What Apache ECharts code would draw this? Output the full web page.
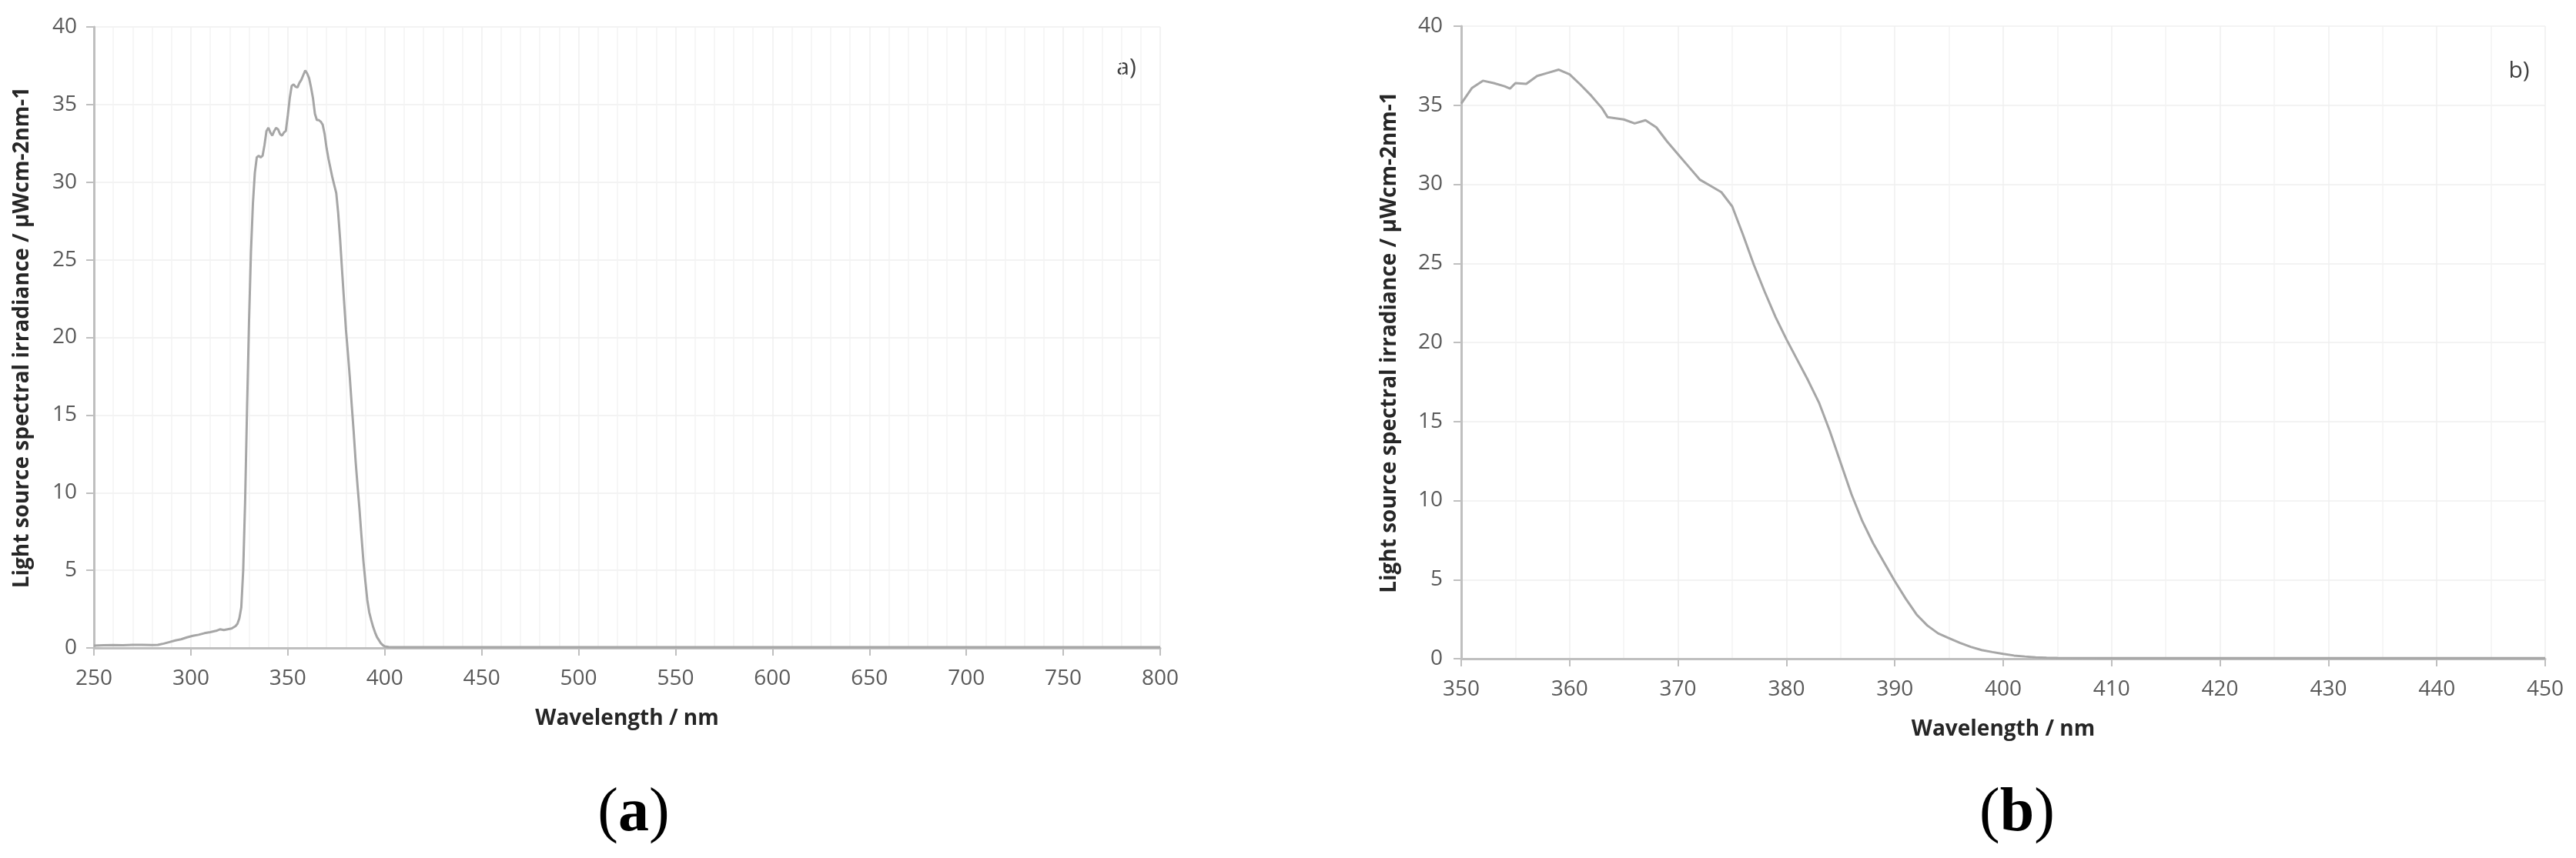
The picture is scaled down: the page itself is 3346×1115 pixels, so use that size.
<!DOCTYPE html>
<html>
<head>
<meta charset="utf-8">
<script src="https://cdn.jsdelivr.net/npm/echarts@6/dist/echarts.min.js"></script>
<style>
html,body{margin:0;padding:0;background:#fff;}
#chart{width:3346px;height:1115px;}
</style>
</head>
<body>
<div id="chart"></div>
<script>
// ---- Panel (a): full spectrum 250–800 nm ----
const wavelengthA = [250,255,260,265,270,275,280,283,286,289,292,295,298,301,304,307,310,313,315,317,319,321,323,324,325,326,327,328,329,330,331,332,333,334,335,336,337,338,339,340,341,342,343,344,345,346,347,348,349,350,351,352,353,354,355,356,357,358,359,360,361,362,363,364,365,366,367,368,369,370,371,372,373,374,375,376,377,378,379,380,381,382,383,384,385,386,387,388,389,390,391,392,393,394,395,396,397,398,399,400,402,405,420,450,500,550,600,650,700,750,800];
const irradianceA = [0.15,0.17,0.18,0.17,0.2,0.2,0.18,0.2,0.28,0.38,0.48,0.56,0.68,0.78,0.85,0.95,1.02,1.1,1.2,1.15,1.2,1.25,1.4,1.55,1.9,2.6,5.0,9.5,15.5,21.0,25.5,28.6,30.6,31.6,31.7,31.6,31.7,32.4,33.3,33.5,33.2,33.0,33.3,33.5,33.4,33.1,33.0,33.2,33.3,34.3,35.4,36.2,36.3,36.15,36.1,36.4,36.6,36.9,37.2,37.0,36.7,36.1,35.4,34.4,34.0,34.0,33.9,33.7,33.1,32.2,31.5,30.9,30.3,29.8,29.3,28.0,26.3,24.3,22.4,20.5,19.0,17.4,15.6,13.9,12.0,10.4,8.9,7.2,5.6,4.3,3.1,2.3,1.8,1.36,1.0,0.7,0.5,0.3,0.18,0.1,0.06,0.05,0.05,0.05,0.05,0.05,0.05,0.05,0.05,0.05,0.05];

// ---- Panel (b): zoom 350–450 nm ----
const wavelengthB = [350,351,352,353,354,354.5,355,356,357,358,359,360,361,362,363,363.5,364,365,366,367,368,369,370,371,372,373,374,375,376,377,378,379,380,381,382,383,384,385,386,387,388,389,390,391,392,393,394,395,396,397,398,399,400,401,402,403,404,405,410,420,430,440,450];
const irradianceB = [35.1,36.1,36.55,36.4,36.2,36.05,36.4,36.35,36.85,37.05,37.25,36.95,36.3,35.6,34.8,34.25,34.2,34.1,33.85,34.05,33.6,32.7,31.9,31.1,30.3,29.9,29.5,28.6,26.8,24.9,23.2,21.6,20.2,18.9,17.6,16.2,14.4,12.4,10.4,8.7,7.3,6.1,4.9,3.8,2.8,2.1,1.6,1.3,1.0,0.75,0.55,0.42,0.3,0.2,0.14,0.09,0.06,0.05,0.04,0.04,0.04,0.04,0.04];

const yTicksMax = 40, yInterval = 5;
const yTitle = 'Light source spectral irradiance / µWcm-2nm-1';
const xTitle = 'Wavelength / nm';

const zip = (xs, ys) => xs.map((x, i) => [x, ys[i]]);

const AXIS = '#bfbfbf', GRID = '#efefef', MINOR = '#f4f4f4', LABEL = '#595959', TITLE = '#262626';
const FONT = "'Open Sans', 'Liberation Sans', sans-serif";

function xAxisCfg(idx, min, max, interval, minorSplit) {
  return {
    type: 'value', gridIndex: idx, min: min, max: max, interval: interval,
    name: xTitle, nameLocation: 'middle', nameGap: 78,
    nameTextStyle: {fontFamily: FONT, fontSize: 28, fontWeight: 'bold', color: TITLE},
    axisLine: {onZero: false, lineStyle: {color: AXIS, width: 3}},
    axisTick: {show: true, length: 10, lineStyle: {color: AXIS, width: 2}},
    minorTick: {show: false, splitNumber: minorSplit},
    minorSplitLine: {show: true, lineStyle: {color: MINOR, width: 1.5}},
    splitLine: {show: true, lineStyle: {color: GRID, width: 1.5}},
    axisLabel: {fontFamily: FONT, fontSize: 28, color: LABEL, margin: 26}
  };
}
function yAxisCfg(idx, margin) {
  return {
    type: 'value', gridIndex: idx, min: 0, max: yTicksMax, interval: yInterval,
    name: yTitle, nameLocation: 'middle', nameGap: 79,
    nameTextStyle: {fontFamily: FONT, fontSize: 28, fontWeight: 'bold', color: TITLE},
    axisLine: {show: true, lineStyle: {color: AXIS, width: 3}},
    axisTick: {show: true, length: 10, lineStyle: {color: AXIS, width: 2}},
    splitLine: {show: true, lineStyle: {color: GRID, width: 1.5}},
    axisLabel: {fontFamily: FONT, fontSize: 28, color: LABEL, margin: margin}
  };
}

const chart = echarts.init(document.getElementById('chart'), null, {renderer: 'canvas'});
chart.setOption({
  backgroundColor: '#ffffff',
  animation: false,
  grid: [
    {left: 122, top: 35, width: 1385, height: 807},
    {left: 1898, top: 34, width: 1408, height: 822}
  ],
  xAxis: [xAxisCfg(0, 250, 800, 50, 5), xAxisCfg(1, 350, 450, 10, 2)],
  yAxis: [yAxisCfg(0, 22), yAxisCfg(1, 24)],
  series: [
    {type: 'line', xAxisIndex: 0, yAxisIndex: 0, data: zip(wavelengthA, irradianceA),
     showSymbol: false, lineStyle: {color: '#a6a6a6', width: 3}, z: 5},
    {type: 'line', xAxisIndex: 1, yAxisIndex: 1, data: zip(wavelengthB, irradianceB),
     showSymbol: false, lineStyle: {color: '#a6a6a6', width: 3}, z: 5}
  ],
  graphic: [
    {type: 'text', x: 1463, y: 88, style: {text: 'a)', font: "30px 'Open Sans', sans-serif", fill: '#404040', textAlign: 'center', textVerticalAlign: 'middle'}},
    {type: 'text', x: 3272, y: 92, style: {text: 'b)', font: "30px 'Open Sans', sans-serif", fill: '#404040', textAlign: 'center', textVerticalAlign: 'middle'}},
    {type: 'text', x: 823, y: 1058, style: {text: '{p|(}{b|a}{p|)}', textAlign: 'center', textVerticalAlign: 'middle',
      rich: {p: {fontFamily: "'Liberation Serif', serif", fontSize: 80, color: '#000'}, b: {fontFamily: "'Liberation Serif', serif", fontSize: 80, fontWeight: 'bold', color: '#000'}}}},
    {type: 'text', x: 2620, y: 1058, style: {text: '{p|(}{b|b}{p|)}', textAlign: 'center', textVerticalAlign: 'middle',
      rich: {p: {fontFamily: "'Liberation Serif', serif", fontSize: 80, color: '#000'}, b: {fontFamily: "'Liberation Serif', serif", fontSize: 80, fontWeight: 'bold', color: '#000'}}}}
  ]
});
</script>
</body>
</html>
